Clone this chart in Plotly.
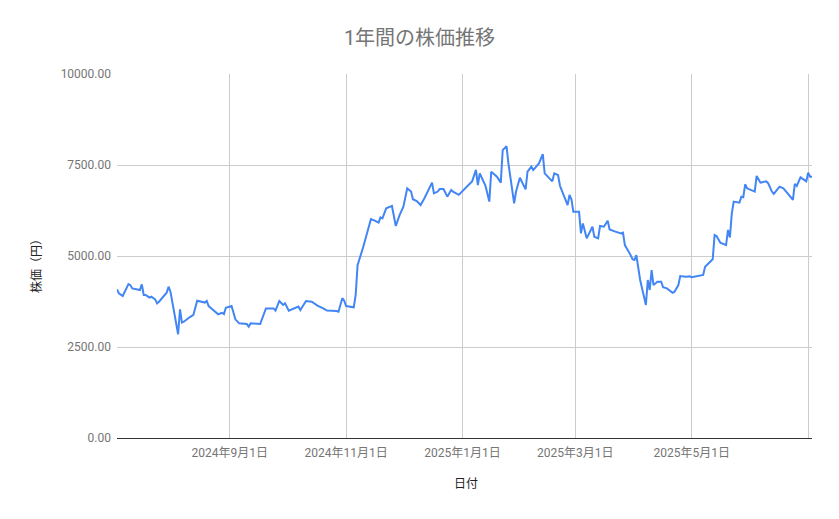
import plotly.graph_objects as go

dates = [
    "2024-07-04", "2024-07-05", "2024-07-07", "2024-07-10", "2024-07-11", "2024-07-12",
    "2024-07-16", "2024-07-17", "2024-07-18", "2024-07-19", "2024-07-21", "2024-07-22",
    "2024-07-24", "2024-07-25", "2024-07-26", "2024-07-28", "2024-07-30", "2024-07-31",
    "2024-08-01", "2024-08-05", "2024-08-06", "2024-08-07", "2024-08-08", "2024-08-11",
    "2024-08-13", "2024-08-15", "2024-08-17", "2024-08-19", "2024-08-20", "2024-08-21",
    "2024-08-22", "2024-08-25", "2024-08-26", "2024-08-28", "2024-08-29", "2024-08-30",
    "2024-09-02", "2024-09-04", "2024-09-06", "2024-09-10", "2024-09-11", "2024-09-12",
    "2024-09-17", "2024-09-20", "2024-09-24", "2024-09-25", "2024-09-27", "2024-09-29",
    "2024-09-30", "2024-10-02", "2024-10-05", "2024-10-07", "2024-10-08", "2024-10-09",
    "2024-10-11", "2024-10-14", "2024-10-17", "2024-10-20", "2024-10-22", "2024-10-27",
    "2024-10-28", "2024-10-30", "2024-10-31", "2024-11-01", "2024-11-05", "2024-11-06",
    "2024-11-07", "2024-11-10", "2024-11-12", "2024-11-14", "2024-11-16", "2024-11-18",
    "2024-11-19", "2024-11-20", "2024-11-22", "2024-11-25", "2024-11-27", "2024-11-29",
    "2024-12-01", "2024-12-03", "2024-12-05", "2024-12-06", "2024-12-08", "2024-12-10",
    "2024-12-12", "2024-12-16", "2024-12-17", "2024-12-19", "2024-12-20", "2024-12-22",
    "2024-12-24", "2024-12-26", "2024-12-27", "2024-12-30", "2025-01-05", "2025-01-06",
    "2025-01-08", "2025-01-09", "2025-01-10", "2025-01-13", "2025-01-15", "2025-01-16",
    "2025-01-19", "2025-01-21", "2025-01-22", "2025-01-24", "2025-01-25", "2025-01-28",
    "2025-01-29", "2025-01-31", "2025-02-03", "2025-02-04", "2025-02-06", "2025-02-07",
    "2025-02-10", "2025-02-12", "2025-02-13", "2025-02-15", "2025-02-17", "2025-02-18",
    "2025-02-20", "2025-02-21", "2025-02-25", "2025-02-26", "2025-02-27", "2025-02-28",
    "2025-03-03", "2025-03-04", "2025-03-05", "2025-03-07", "2025-03-10", "2025-03-11",
    "2025-03-13", "2025-03-14", "2025-03-16", "2025-03-18", "2025-03-19", "2025-03-22",
    "2025-03-25", "2025-03-26", "2025-03-27", "2025-03-30", "2025-03-31", "2025-04-01",
    "2025-04-02", "2025-04-04", "2025-04-07", "2025-04-08", "2025-04-09", "2025-04-10",
    "2025-04-11", "2025-04-13", "2025-04-15", "2025-04-16", "2025-04-18", "2025-04-21",
    "2025-04-22", "2025-04-24", "2025-04-25", "2025-04-28", "2025-04-30", "2025-05-01",
    "2025-05-04", "2025-05-07", "2025-05-08", "2025-05-10", "2025-05-12", "2025-05-13",
    "2025-05-14", "2025-05-16", "2025-05-19", "2025-05-20", "2025-05-21", "2025-05-22",
    "2025-05-23", "2025-05-26", "2025-05-27", "2025-05-28", "2025-05-29", "2025-05-30",
    "2025-06-03", "2025-06-04", "2025-06-06", "2025-06-09", "2025-06-10", "2025-06-12",
    "2025-06-13", "2025-06-16", "2025-06-18", "2025-06-21", "2025-06-23", "2025-06-24",
    "2025-06-25", "2025-06-27", "2025-06-30", "2025-07-01", "2025-07-02", "2025-07-03",
]

prices = [
    4085, 3975, 3900, 4230, 4200, 4110,
    4065, 4220, 3930, 3930, 3855, 3880,
    3810, 3700, 3745, 3865, 3990, 4157,
    4020, 2850, 3535, 3170, 3195, 3315,
    3380, 3770, 3745, 3720, 3765, 3625,
    3580, 3440, 3400, 3440, 3405, 3580,
    3625, 3260, 3150, 3130, 3060, 3150,
    3130, 3560, 3560, 3500, 3765, 3655,
    3700, 3500, 3560, 3610, 3515, 3610,
    3765, 3745, 3635, 3560, 3500, 3490,
    3470, 3840, 3770, 3625, 3590, 3930,
    4750, 5255, 5670, 6015, 5970, 5915,
    6060, 6035, 6310, 6375, 5825, 6125,
    6355, 6860, 6770, 6560, 6510, 6400,
    6585, 7015, 6720, 6770, 6840, 6840,
    6630, 6815, 6770, 6680, 7000, 7050,
    7365, 6950, 7270, 6925, 6495, 7315,
    7180, 7015, 7910, 8020, 7545, 6445,
    6770, 7150, 6830, 7315, 7455, 7360,
    7545, 7800, 7270, 7150, 7050, 7270,
    7225, 6930, 6400, 6675, 6560, 6215,
    6215, 5620, 5895, 5485, 5805, 5530,
    5485, 5825, 5805, 5970, 5730, 5670,
    5620, 5640, 5300, 5025, 4910, 4890,
    5025, 4340, 3655, 4340, 4065, 4615,
    4200, 4295, 4295, 4140, 4110, 3990,
    4020, 4200, 4450, 4430, 4440, 4415,
    4450, 4480, 4705, 4815, 4910, 5575,
    5550, 5365, 5300, 5715, 5510, 6170,
    6495, 6465, 6630, 6615, 6970, 6860,
    6770, 7200, 7015, 7050, 7000, 6770,
    6705, 6905, 6860, 6675, 6540, 6980,
    6925, 7160, 7050, 7290, 7180, 7180,
]

x_tick_vals = ["2024-09-01", "2024-11-01", "2025-01-01", "2025-03-01", "2025-05-01", "2025-07-01"]
x_tick_text = ["2024年9月1日", "2024年11月1日", "2025年1月1日", "2025年3月1日", "2025年5月1日", ""]
y_tick_vals = [0, 2500, 5000, 7500, 10000]

title_text = "1年間の株価推移"
x_title = "日付"
y_title = "株価（円）"

FONT = "Roboto, 'Noto Sans CJK JP', sans-serif"

# The page body has an 8px default margin; the figure is sized to fit the window.
W, H = 831, 511

fig = go.Figure()
fig.add_trace(go.Scatter(
    x=dates, y=prices, mode="lines",
    line=dict(color="#4285f4", width=2),
    showlegend=False,
))

fig.update_layout(
    width=W, height=H, autosize=False,
    margin=dict(l=109, r=27, t=66, b=81),
    paper_bgcolor="white", plot_bgcolor="white",
    font=dict(family=FONT, color="#757575", size=12),
    title=dict(text=title_text, x=411.5 / W, xref="container", xanchor="center",
               y=1 - 30 / H, yref="container", yanchor="middle",
               font=dict(size=20, color="#757575", family=FONT)),
    xaxis=dict(
        type="date", range=[dates[0], dates[-1]],
        tickvals=x_tick_vals, ticktext=x_tick_text,
        showgrid=True, gridcolor="#cccccc", gridwidth=1,
        showline=True, linecolor="#333333", linewidth=1,
        zeroline=False, ticks="",
        ticklabelstandoff=4,
        tickfont=dict(size=12, color="#757575", family=FONT),
    ),
    yaxis=dict(
        range=[0, 10000], tickvals=y_tick_vals, tickformat=".2f",
        showgrid=True, gridcolor="#cccccc", gridwidth=1,
        zeroline=False, showline=False, ticks="",
        ticklabelstandoff=5,
        tickfont=dict(size=12, color="#757575", family=FONT),
    ),
    annotations=[
        dict(text=x_title, xref="paper", yref="paper", x=(466 - 117) / 695,
             y=(438 - 484) / 364, xanchor="center", yanchor="middle",
             showarrow=False, font=dict(size=12, color="#222222", family=FONT)),
        dict(text=y_title, xref="paper", yref="paper", x=(37 - 117) / 695,
             y=(438 - 263) / 364, xanchor="center", yanchor="middle", textangle=-90,
             showarrow=False, font=dict(size=12, color="#222222", family=FONT)),
    ],
)

fig.write_html("out.html")
